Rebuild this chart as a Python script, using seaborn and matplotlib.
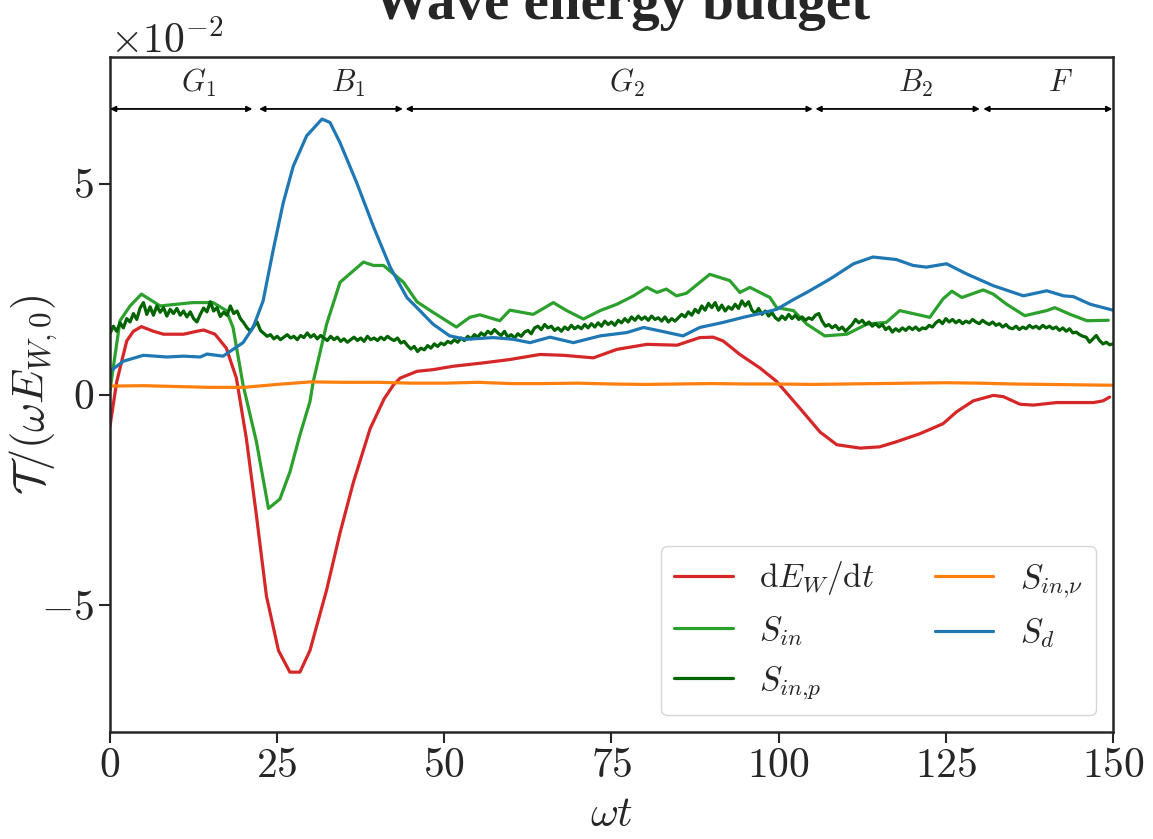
import numpy as np
import pandas as pd
import matplotlib
matplotlib.use("Agg")
import matplotlib.pyplot as plt
import seaborn as sns

# ---------------------------------------------
# Data (values in units of 1e-2)
# ---------------------------------------------
red_x = [0, 1, 2.5, 3.5, 4.7, 6.5, 8, 11, 13, 14, 15.7, 17.4, 18.9, 20.4, 21.9, 23.4,
         25.2, 26.9, 28.4, 29.9, 32.4, 34.4, 36.4, 38.9, 41, 42.4, 43.4, 45.9, 48.3,
         51.3, 55.8, 59.8, 64.3, 67.8, 72.3, 75.8, 80.3, 84.8, 88.2, 90.2, 91.7, 94.2,
         97.2, 99.7, 103.2, 106.2, 108.7, 112.2, 115.1, 117.6, 121.1, 124.6, 126.6,
         129.1, 132.1, 133.6, 136.1, 138.1, 141.6, 147.1, 148.5, 149.5]
red_y = [-0.75, 0.3, 1.27, 1.5, 1.61, 1.5, 1.43, 1.43, 1.5, 1.53, 1.43, 1.1, 0.39, -1.05,
         -2.87, -4.78, -6.07, -6.58, -6.58, -6.07, -4.63, -3.28, -2.08, -0.81, -0.1, 0.23,
         0.39, 0.55, 0.59, 0.67, 0.75, 0.83, 0.95, 0.93, 0.87, 1.07, 1.19, 1.17, 1.35,
         1.36, 1.27, 0.95, 0.63, 0.31, -0.33, -0.89, -1.19, -1.27, -1.24, -1.12, -0.93,
         -0.69, -0.41, -0.15, -0.02, -0.05, -0.23, -0.25, -0.19, -0.19, -0.15, -0.06]

sin_x = [0, 1.5, 3, 4.7, 7.5, 12.4, 15.4, 17.4, 18.4, 19.9, 21.9, 23.7, 25.4, 26.9, 28.4,
         29.9, 30.4, 32.4, 34.4, 37.9, 39.4, 40.9, 43.9, 45.9, 48.3, 51.8, 53.8, 55.3,
         58.3, 59.8, 63.3, 66.3, 68.3, 70.8, 73.3, 75.8, 78.3, 80.3, 81.8, 83.2, 84.7,
         86.2, 89.7, 92.7, 94.2, 95.7, 98.7, 99.7, 102.2, 104.2, 106.9, 110.2, 113.2,
         116.1, 118.1, 122.6, 124.6, 125.9, 127.4, 130.6, 132.1, 134.1, 136.8, 140.1,
         141.3, 143.6, 146.1, 149.3]
sin_y = [0.1, 1.75, 2.1, 2.38, 2.1, 2.18, 2.18, 1.99, 1.59, 0.23, -1.12, -2.7, -2.48,
         -1.84, -0.96, -0.17, 0.31, 1.67, 2.66, 3.14, 3.06, 3.06, 2.66, 2.2, 1.95, 1.6,
         1.83, 1.89, 1.75, 2.0, 1.9, 2.18, 1.99, 1.79, 1.99, 2.14, 2.34, 2.54, 2.42, 2.5,
         2.34, 2.4, 2.85, 2.7, 2.42, 2.54, 2.3, 2.06, 1.99, 1.67, 1.39, 1.43, 1.67, 1.71,
         1.99, 1.83, 2.27, 2.45, 2.3, 2.48, 2.38, 2.14, 1.87, 1.99, 2.06, 1.9, 1.75, 1.76]

# S_in,p sampled every 0.5 time units
sinp_x = np.linspace(0, 150, 301)
sinp_y = [1.45, 1.62, 1.50, 1.70, 1.58, 1.80, 1.72, 1.92, 1.78, 2.05,
          2.18, 1.90, 2.08, 1.88, 2.10, 1.95, 2.06, 1.86, 2.02, 1.92,
          2.04, 1.88, 1.98, 1.84, 1.96, 1.80, 1.72, 1.90, 2.05, 1.96,
          2.20, 1.98, 2.06, 1.85, 1.95, 1.88, 2.10, 1.92, 1.98, 1.80,
          1.70, 1.58, 1.50, 1.62, 1.72, 1.52, 1.45, 1.38, 1.42, 1.32,
          1.38, 1.30, 1.36, 1.42, 1.34, 1.38, 1.30, 1.40, 1.35, 1.46,
          1.36, 1.42, 1.32, 1.40, 1.34, 1.28, 1.38, 1.30, 1.36, 1.26,
          1.32, 1.24, 1.30, 1.36, 1.28, 1.34, 1.26, 1.38, 1.30, 1.34,
          1.28, 1.36, 1.30, 1.38, 1.32, 1.28, 1.34, 1.22, 1.26, 1.16,
          1.08, 1.14, 1.02, 1.10, 1.06, 1.16, 1.10, 1.20, 1.14, 1.22,
          1.18, 1.26, 1.22, 1.30, 1.24, 1.34, 1.28, 1.38, 1.32, 1.42,
          1.36, 1.46, 1.40, 1.50, 1.44, 1.54, 1.46, 1.40, 1.50, 1.36,
          1.42, 1.34, 1.44, 1.38, 1.48, 1.52, 1.44, 1.58, 1.62, 1.54,
          1.66, 1.58, 1.62, 1.52, 1.58, 1.50, 1.60, 1.54, 1.64, 1.56,
          1.62, 1.56, 1.66, 1.58, 1.68, 1.60, 1.70, 1.62, 1.74, 1.66,
          1.72, 1.64, 1.76, 1.70, 1.80, 1.72, 1.84, 1.76, 1.86, 1.78,
          1.84, 1.76, 1.86, 1.78, 1.82, 1.74, 1.84, 1.72, 1.80, 1.74,
          1.82, 1.90, 1.84, 1.96, 1.88, 2.02, 1.94, 2.10, 2.00, 2.16,
          2.06, 2.18, 2.00, 2.12, 1.98, 2.08, 2.02, 2.14, 2.04, 2.22,
          2.10, 2.20, 2.00, 1.92, 2.04, 1.90, 1.98, 1.86, 1.94, 1.82,
          1.76, 1.86, 1.78, 1.90, 1.80, 1.88, 1.78, 1.84, 1.76, 1.82,
          1.78, 1.88, 1.92, 1.74, 1.62, 1.66, 1.58, 1.64, 1.54, 1.60,
          1.50, 1.58, 1.66, 1.78, 1.70, 1.76, 1.66, 1.72, 1.62, 1.68,
          1.60, 1.66, 1.54, 1.60, 1.48, 1.56, 1.50, 1.58, 1.52, 1.60,
          1.54, 1.60, 1.52, 1.58, 1.56, 1.64, 1.60, 1.70, 1.76, 1.68,
          1.80, 1.72, 1.78, 1.70, 1.76, 1.68, 1.74, 1.70, 1.78, 1.72,
          1.68, 1.76, 1.70, 1.66, 1.72, 1.64, 1.68, 1.60, 1.66, 1.58,
          1.56, 1.62, 1.54, 1.60, 1.56, 1.64, 1.58, 1.62, 1.56, 1.64,
          1.58, 1.62, 1.56, 1.60, 1.52, 1.58, 1.50, 1.56, 1.46, 1.48,
          1.42, 1.38, 1.36, 1.24, 1.32, 1.40, 1.28, 1.20, 1.24, 1.18,
          1.20]

sinnu_x = [0, 5, 10, 15, 20, 25, 30, 35, 40, 45, 50, 55, 60, 65, 70, 75, 80, 85, 90, 95,
           100, 105, 110, 115, 120, 125, 130, 135, 140, 145, 150]
sinnu_y = [0.20, 0.21, 0.19, 0.17, 0.17, 0.24, 0.30, 0.29, 0.29, 0.27, 0.27, 0.29, 0.26,
           0.26, 0.27, 0.25, 0.24, 0.25, 0.26, 0.25, 0.25, 0.24, 0.25, 0.26, 0.27, 0.28,
           0.27, 0.25, 0.24, 0.23, 0.22]

sd_x = [0, 2, 5, 8.5, 11, 13.5, 14.5, 16.9, 18.4, 19.9, 21.4, 22.9, 24.4, 25.9, 27.4,
        29.4, 31.7, 32.9, 34.4, 36.9, 39.4, 41.9, 44.4, 45.9, 48.3, 50.8, 53.3, 57.3,
        60.3, 62.8, 65.8, 69.3, 73.3, 77.3, 79.8, 82.2, 85.7, 88.2, 91.7, 94.7, 97.2,
        99.7, 102.2, 104.2, 107.7, 111.2, 114.1, 117.6, 120.1, 122.1, 125.1, 128.1,
        132.1, 136.6, 140.1, 142.6, 144.1, 146.6, 150]
sd_y = [0.55, 0.79, 0.93, 0.89, 0.91, 0.89, 0.96, 0.91, 1.07, 1.23, 1.59, 2.22, 3.42,
        4.54, 5.41, 6.13, 6.53, 6.45, 5.97, 5.02, 3.98, 3.02, 2.3, 2.06, 1.67, 1.39,
        1.31, 1.35, 1.31, 1.23, 1.36, 1.23, 1.39, 1.47, 1.59, 1.51, 1.39, 1.59, 1.71,
        1.83, 1.92, 2.02, 2.25, 2.42, 2.74, 3.1, 3.26, 3.2, 3.06, 3.02, 3.1, 2.86, 2.58,
        2.34, 2.46, 2.34, 2.32, 2.14, 2.0]

# Flow phases
phase_labels = [r'$G_1$', r'$B_1$', r'$G_2$', r'$B_2$', r'$F$']
phase_start = [0, 22.3, 44.2, 105.5, 130.6]
phase_end = [21.3, 43.8, 105.1, 130.1, 149.9]

# ---------------------------------------------
# Style
# ---------------------------------------------
sns.set_style('ticks')
plt.rcParams['font.family'] = 'serif'
plt.rcParams['font.serif'] = ['cmr10', 'DejaVu Serif']
plt.rcParams['mathtext.fontset'] = 'cm'
plt.rcParams['axes.formatter.use_mathtext'] = True
plt.rcParams['axes.unicode_minus'] = True

fig = plt.figure(figsize=(11.53, 8.39), dpi=100)
ax = fig.add_axes([0.0954, 0.1275, 0.8699, 0.8045])

series = [
    (red_x, red_y, '#d62728', r'$\mathrm{d}E_W/\mathrm{d}t$'),
    (sin_x, sin_y, '#2ca02c', r'$S_{in}$'),
    (sinp_x, sinp_y, '#006400', r'$S_{in{,}p}$'),
    (sinnu_x, sinnu_y, '#ff7f0e', r'$S_{in{,}\nu}$'),
    (sd_x, sd_y, '#1f77b4', r'$S_d$'),
]
for xs, ys, col, lab in series:
    sns.lineplot(x=np.asarray(xs), y=np.asarray(ys) * 1e-2, color=col, label=lab,
                 lw=2.3, sort=False, estimator=None, ax=ax)

ax.set_xlim(0, 150)
ax.set_ylim(-0.08, 0.08)
ax.set_xticks([0, 25, 50, 75, 100, 125, 150])
ax.set_yticks([-0.05, 0, 0.05])
ax.ticklabel_format(axis='y', style='sci', scilimits=(-2, -2))
ax.tick_params(labelsize=30, length=8, width=1.5, direction='out')
ax.yaxis.get_offset_text().set_fontsize(30)
for sp in ax.spines.values():
    sp.set_linewidth(1.8)
    sp.set_visible(True)

ax.set_xlabel(r'$\omega t$', fontsize=31, labelpad=8)
ax.set_ylabel(r'$\mathcal{T}/(\omega E_{W,0})$', fontsize=32)
ax.yaxis.set_label_coords(-0.05, 0.5)

# phase arrows
for lab, a, b in zip(phase_labels, phase_start, phase_end):
    ax.annotate('', xy=(a, 0.0677), xytext=(b, 0.0677),
                arrowprops=dict(arrowstyle='<|-|>', color='black', lw=1.3,
                                mutation_scale=8, shrinkA=0, shrinkB=0))
    ax.text((a + b) / 2, 0.0738, lab, fontsize=22, ha='left', va='center')

ax.legend(loc='lower right', ncol=2, fontsize=24, frameon=True, fancybox=True,
          handlelength=1.75, columnspacing=1.8, labelspacing=0.5)

ax.text(0.51, 1.057, 'Wave energy budget', transform=ax.transAxes, ha='center',
        va='baseline', fontsize=41, fontweight='bold',
        fontfamily=['Liberation Serif', 'DejaVu Serif'])

fig.savefig('out.png', dpi=100)
